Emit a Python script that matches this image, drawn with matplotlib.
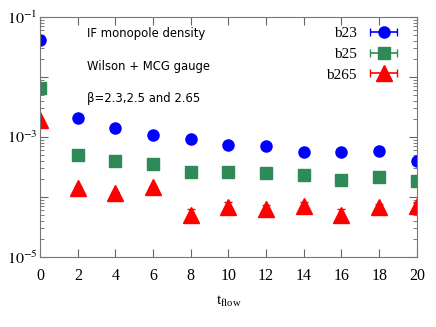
import numpy as np
import matplotlib
matplotlib.use('Agg')
from matplotlib import pyplot as plt
from matplotlib.ticker import LogLocator, FixedLocator, NullFormatter
from matplotlib.legend_handler import HandlerErrorbar
from matplotlib.container import ErrorbarContainer

plt.rcParams['mathtext.fontset'] = 'stix'

t_flow = [0, 2, 4, 6, 8, 10, 12, 14, 16, 18, 20]
b23 = [4.1e-2, 2.1e-3, 1.43e-3, 1.08e-3, 9.1e-4, 7.4e-4, 7.1e-4, 5.6e-4, 5.6e-4, 5.9e-4, 4.0e-4]
b23_err = [1e-3, 5e-5, 3e-5, 2e-5, 2e-5, 2e-5, 2e-5, 1e-5, 1e-5, 1e-5, 1e-5]
b25 = [6.5e-3, 5.0e-4, 4.0e-4, 3.6e-4, 2.64e-4, 2.64e-4, 2.55e-4, 2.33e-4, 1.92e-4, 2.13e-4, 1.85e-4]
b25_err = [2e-4, 1e-5, 1e-5, 1e-5, 8e-6, 8e-6, 8e-6, 8e-6, 8e-6, 8e-6, 8e-6]
b265 = [1.9e-3, 1.4e-4, 1.18e-4, 1.49e-4, 5.0e-5, 6.9e-5, 6.3e-5, 7.1e-5, 5.0e-5, 6.9e-5, 7.1e-5]
b265_err = [5e-5, 5e-6, 5e-6, 5e-6, 1.2e-5, 1.5e-5, 1.1e-5, 1.3e-5, 1.2e-5, 8e-6, 1.1e-5]

series = [('b23', b23, b23_err, 'o', '#0000ff', 8),
          ('b25', b25, b25_err, 's', '#2e8b57', 8),
          ('b265', b265, b265_err, '^', '#ff0000', 11)]

fig = plt.figure(figsize=(4.36, 3.27), dpi=100)
ax = fig.add_axes([0.092, 0.214, 0.864, 0.734])

handles = []
for name, vals, errs, mk, col, ms in series:
    ax.errorbar(t_flow, vals, yerr=errs, fmt=mk, color=col, ms=ms, capsize=3, lw=1)
    # legend proxy with horizontal bar, gnuplot style
    h = ax.errorbar([np.nan], [np.nan], xerr=[1], fmt=mk, color=col, ms=ms, capsize=3, lw=1.2, label=name)
    handles.append(h)

ax.set_yscale('log')
ax.set_ylim(1e-5, 1e-1)
ax.set_xlim(0, 20)
ax.set_xticks(range(0, 21, 2))
ax.yaxis.set_major_locator(FixedLocator([1e-5, 1e-4, 1e-3, 1e-2, 1e-1]))
ax.yaxis.set_minor_locator(LogLocator(base=10, subs=np.arange(2, 10)))
ax.yaxis.set_minor_formatter(NullFormatter())
ax.set_yticklabels(['$10^{-5}$', '', '$10^{-3}$', '', '$10^{-1}$'])

for lab in ax.get_xticklabels() + ax.get_yticklabels():
    lab.set_family('Liberation Serif')
    lab.set_fontsize(11.5)

ax.tick_params(which='both', direction='in', top=True, right=True, color='#666666')
ax.tick_params(which='major', length=6)
ax.tick_params(axis='x', which='major', pad=8)
ax.tick_params(axis='y', which='major', pad=2)
ax.tick_params(which='minor', length=3)
for s in ax.spines.values():
    s.set_color('#777777')

ax.set_xlabel('$\\mathregular{t_{flow}}$', family='Liberation Serif', fontsize=11, labelpad=7)

ax.text(0.125, 0.93, 'IF monopole density', transform=ax.transAxes, fontsize=8.4, va='center')
ax.text(0.125, 0.795, 'Wilson + MCG gauge', transform=ax.transAxes, fontsize=8.4, va='center')
ax.text(0.125, 0.66, 'β=2.3,2.5 and 2.65', transform=ax.transAxes, fontsize=8.4, va='center')

leg = ax.legend(handles=handles, loc='upper right', markerfirst=False, frameon=False,
                prop={'family': 'Liberation Serif', 'size': 11},
                handler_map={ErrorbarContainer: HandlerErrorbar(xerr_size=0.9)},
                handlelength=2.3, handletextpad=0.6, labelspacing=0.45,
                borderaxespad=0.0, bbox_to_anchor=(0.975, 0.985))

fig.savefig('out.png', dpi=100)
